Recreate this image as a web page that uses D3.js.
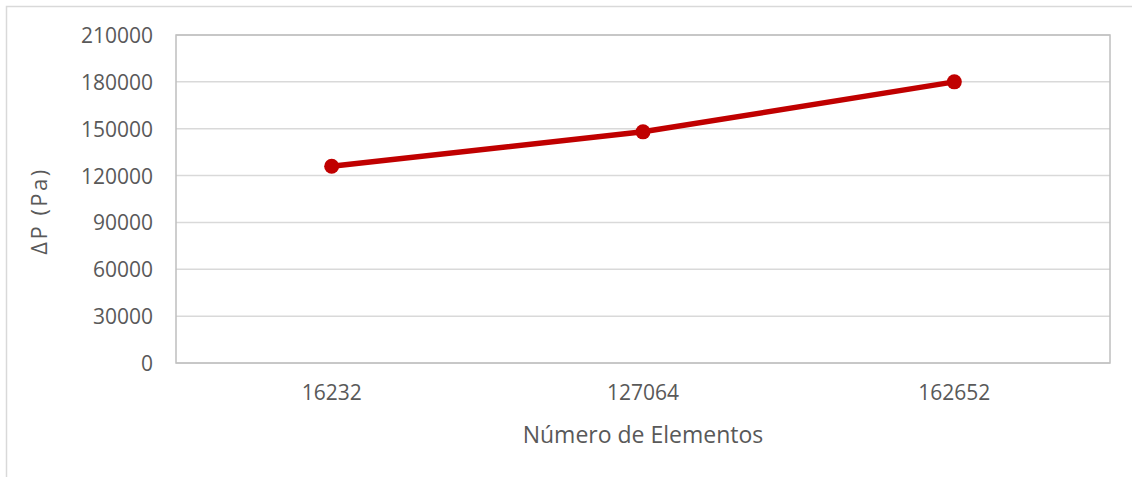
<!DOCTYPE html>
<html lang="pt">
<head>
<meta charset="utf-8" />
<script type="text/javascript" src="https://d3js.org/d3.v7.min.js"></script>
<style type="text/css">
	body { margin: 0; background: #fff; }
	text { font-family: "Open Sans", sans-serif; fill: #595959; }
</style>
</head>
<body>
<script type="text/javascript">

// data
var elementos = ["16232", "127064", "162652"];
var deltaP = [126000, 148000, 180000];
var yTicks = [0, 30000, 60000, 90000, 120000, 150000, 180000, 210000];

var w = 1132;
var h = 477;
var plotLeft = 176, plotRight = 1110, plotTop = 35, plotBottom = 363;

var svg = d3.select("body")
			.append("svg")
			.attr("width", w)
			.attr("height", h);

// chart border
svg.append("rect")
	.attr("x", 6.5)
	.attr("y", 6.5)
	.attr("width", w)
	.attr("height", h)
	.attr("fill", "none")
	.attr("stroke", "#d9d9d9")
	.attr("stroke-width", 1.5);

var x = d3.scaleBand()
			.domain(elementos)
			.range([plotLeft, plotRight]);

var y = d3.scaleLinear()
			.domain([0, 210000])
			.range([plotBottom, plotTop]);

//gridlines
svg.selectAll("line.grid")
	.data(yTicks)
	.enter()
	.append("line")
	.attr("class", "grid")
	.attr("x1", plotLeft)
	.attr("x2", plotRight)
	.attr("y1", function(d) { return y(d); })
	.attr("y2", function(d) { return y(d); })
	.attr("stroke", "#d9d9d9")
	.attr("stroke-width", 1.5);

// plot area border
svg.append("rect")
	.attr("x", plotLeft)
	.attr("y", plotTop)
	.attr("width", plotRight - plotLeft)
	.attr("height", plotBottom - plotTop)
	.attr("fill", "none")
	.attr("stroke", "#bfbfbf")
	.attr("stroke-width", 1.5);

//y axis
var yAxis = svg.append("g")
	.attr("transform", "translate(" + plotLeft + ",0)")
	.call(d3.axisLeft(y).tickValues(yTicks).tickFormat(d3.format("d")).tickSize(0).tickPadding(23));
yAxis.select(".domain").remove();
yAxis.selectAll("text")
	.style("font-size", "21px")
	.attr("fill", "#595959")
	.attr("dy", "0.36em");

//x axis
var xAxis = svg.append("g")
	.attr("transform", "translate(0," + plotBottom + ")")
	.call(d3.axisBottom(x).tickSize(0).tickPadding(22));
xAxis.select(".domain").remove();
xAxis.selectAll("text")
	.style("font-size", "21px")
	.attr("fill", "#595959");

//line
var line = d3.line()
	.x(function(d, i) { return x(elementos[i]) + x.bandwidth() / 2; })
	.y(function(d) { return y(d); });

svg.append("path")
	.datum(deltaP)
	.attr("d", line)
	.attr("fill", "none")
	.attr("stroke", "#c00000")
	.attr("stroke-width", 5.5)
	.attr("stroke-linejoin", "round");

svg.selectAll("circle")
	.data(deltaP)
	.enter()
	.append("circle")
	.attr("cx", function(d, i) { return x(elementos[i]) + x.bandwidth() / 2; })
	.attr("cy", function(d) { return y(d); })
	.attr("r", 7.5)
	.attr("fill", "#c00000");

//labels
svg.append("text")
	.attr("x", (plotLeft + plotRight) / 2)
	.attr("y", 443)
	.style("text-anchor", "middle")
	.style("font-size", "23px")
	.text("Número de Elementos");

svg.append("text")
	.attr("transform", "translate(47,211) rotate(-90)")
	.style("text-anchor", "middle")
	.style("font-size", "22px")
	.style("letter-spacing", "2.5px")
	.text("ΔP (Pa)");

</script>
</body>
</html>
